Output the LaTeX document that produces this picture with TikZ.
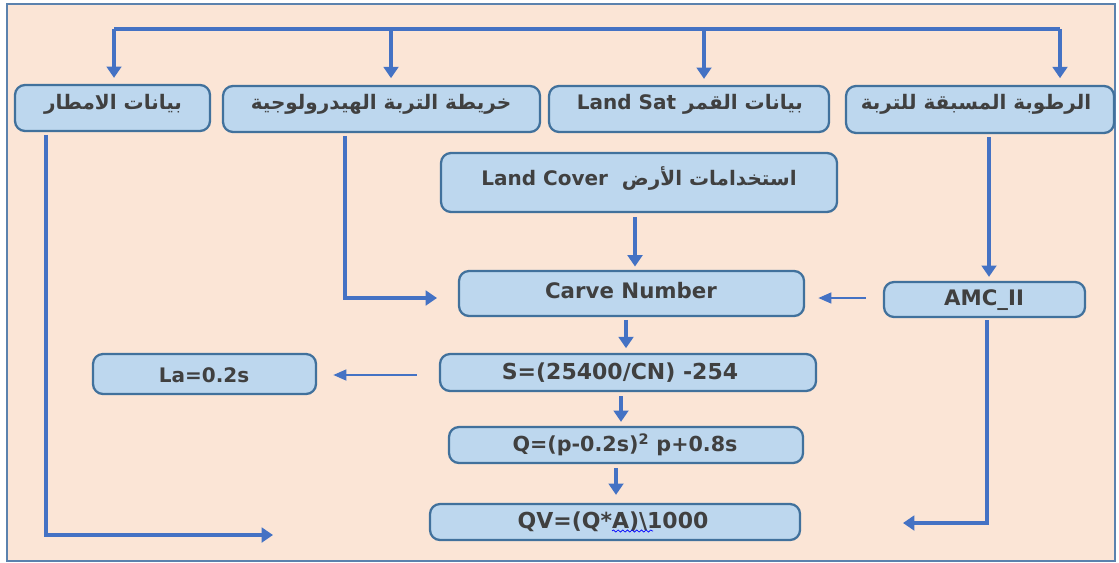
\documentclass[tikz,border=0pt]{standalone}
\usepackage{fontspec}
\setmainfont{DejaVu Sans}
\newfontfamily\arabicfont[Script=Arabic]{DejaVu Sans}
\TeXXeTstate=1
\usetikzlibrary{arrows.meta,calc,fit,decorations.pathmorphing}
\definecolor{bgpeach}{HTML}{FBE5D6}
\definecolor{framecol}{HTML}{5B82AE}
\definecolor{boxfill}{HTML}{BDD7EE}
\definecolor{boxline}{HTML}{41719C}
\definecolor{linkblue}{HTML}{4472C4}
\definecolor{txtgray}{HTML}{404040}
\begin{document}
\begin{tikzpicture}[x=0.75pt,y=-0.75pt,
  box/.style={draw=boxline, fill=boxfill, line width=1.7pt, rounded corners=7.5pt, inner sep=0pt},
  lbl/.style={text=txtgray, inner sep=0pt, font=\bfseries\fontsize{15pt}{18pt}\selectfont},
  arlbl/.style={text=txtgray, inner sep=0pt, font=\arabicfont\bfseries\fontsize{15pt}{18pt}\selectfont},
  link/.style={draw=linkblue, line width=2.8pt, -{Triangle[length=8.5pt,width=11pt]}},
  thinlink/.style={draw=linkblue, line width=2pt, -{Triangle[length=10pt,width=8pt]}},
  bus/.style={draw=linkblue, line width=2.6pt}
]
\useasboundingbox (0,0) rectangle (1119,563);
\fill[white] (0,0) rectangle (1119,563);
\filldraw[fill=bgpeach, draw=framecol, line width=1.8pt] (7,4) rectangle (1115,561);

% boxes
\node[box, fit={(15,85) (210,131)}] (b1) {};
\node[box, fit={(223,86) (540,132)}] (b2) {};
\node[box, fit={(549,86) (829,132)}] (b3) {};
\node[box, fit={(846,86) (1114,133)}] (b4) {};
\node[box, fit={(441,153) (837,212)}] (b5) {};
\node[box, fit={(459,271) (804,316)}] (b6) {};
\node[box, fit={(884,282) (1085,317)}] (b7) {};
\node[box, fit={(93,354) (316,394)}] (b8) {};
\node[box, fit={(440,354) (816,391)}] (b9) {};
\node[box, fit={(449,427) (803,463)}] (b10) {};
\node[box, fit={(430,504) (800,540)}] (b11) {};

% texts
\node[arlbl] (t1) at (113,104) {\beginR بيانات الامطار\endR};
\node[arlbl] (t2) at (381,104) {\beginR خريطة التربة الهيدرولوجية\endR};
\node[arlbl] (t3) at (690,104) {\beginR بيانات القمر \beginL Land Sat\endL\endR};
\node[arlbl] (t4) at (976,104) {\beginR الرطوبة المسبقة للتربة\endR};
\node[arlbl] (t5) at (639,178) {\beginR استخدامات الأرض \ \beginL Land Cover\endL\endR};
\node[lbl, font=\bfseries\fontsize{16pt}{19pt}\selectfont] (t6) at (631,291) {Carve Number};
\node[lbl, font=\bfseries\fontsize{16pt}{19pt}\selectfont] (t7) at (984,300) {AMC\_II};
\node[lbl] (t8) at (204,375) {La=0.2s};
\node[lbl, font=\bfseries\fontsize{16.5pt}{19pt}\selectfont] (t9) at (620,373) {S=(25400/CN) -254};
\node[lbl, font=\bfseries\fontsize{15.5pt}{19pt}\selectfont] (t10) at (625,445) {Q=(p-0.2s)\textsuperscript{2} p+0.8s};
\node[lbl, font=\bfseries\fontsize{16.5pt}{19pt}\selectfont] (t11) at (613,522) {QV=(Q*A)\textbackslash 1000};
\draw[blue, line width=0.5pt, decorate, decoration={snake, amplitude=0.8pt, segment length=3.5pt}] (612,531) -- (653,531);

% top bus
\coordinate (busL) at (114,29);
\coordinate (bus2) at (391,29);
\coordinate (bus3) at (704,29);
\coordinate (busR) at (1060,29);
\draw[bus] (busL) -- (busR);
\draw[link, shorten >=4.5pt] (busL) -- (busL |- b1.north);
\draw[link, shorten >=5pt] (bus2) -- (bus2 |- b2.north);
\draw[link, shorten >=4.5pt] (bus3) -- (bus3 |- b3.north);
\draw[link, shorten >=5pt] (busR) -- (busR |- b4.north);

% left long path from rainfall data
\coordinate (r1) at (46,535);
\coordinate (e1) at (273,535);
\draw[link, shorten <=2pt] (b1.south -| r1) -- (r1) -- (e1);

% hydrologic soil map to CN
\coordinate (r2) at (345,298);
\coordinate (e2) at (437,298);
\draw[link, shorten <=2pt] (b2.south -| r2) -- (r2) -- (e2);

% antecedent moisture to AMC
\coordinate (c4) at (989,200);
\draw[link, shorten <=2pt, shorten >=3pt] (b4.south -| c4) -- (b7.north -| c4);

% land cover to CN
\coordinate (c5) at (635,240);
\draw[link, shorten <=3pt, shorten >=2.5pt] (b5.south -| c5) -- (b6.north -| c5);

% AMC to CN
\coordinate (c76) at (850,298);
\draw[thinlink, shorten <=12.75pt, shorten >=9.75pt] (b7.west |- c76) -- (b6.east |- c76);

% AMC down to QV
\coordinate (r7) at (987,523);
\coordinate (e7) at (903,523);
\draw[link, shorten <=1.5pt] (b7.south -| r7) -- (r7) -- (e7);

% CN to S
\coordinate (c69) at (626,330);
\draw[link, shorten <=2pt, shorten >=3.5pt] (b6.south -| c69) -- (b9.north -| c69);

% S to La
\coordinate (c98) at (380,375);
\draw[thinlink, shorten <=16.5pt, shorten >=12pt] (b9.west |- c98) -- (b8.east |- c98);

% S to Q
\coordinate (c910) at (621,410);
\draw[link, shorten <=3pt, shorten >=3pt] (b9.south -| c910) -- (b10.north -| c910);

% Q to QV
\coordinate (c1011) at (616,480);
\draw[link, shorten <=3pt, shorten >=6pt] (b10.south -| c1011) -- (b11.north -| c1011);
\end{tikzpicture}
\end{document}
